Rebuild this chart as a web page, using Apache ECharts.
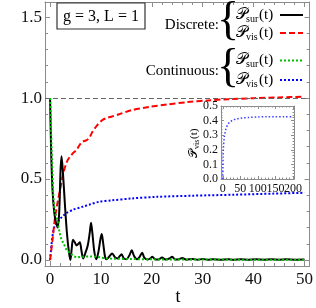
<!DOCTYPE html>
<html><head><meta charset="utf-8">
<script src="https://cdn.jsdelivr.net/npm/echarts@6/dist/echarts.min.js"></script>
<style>html,body{margin:0;padding:0;background:#fff}#c{width:316px;height:308px}</style>
</head><body><div id="c"></div>
<script>
// ---- data ----
const discSurT = [0,0.12,0.25,0.5,0.8,1.1,1.5,1.8,2.05,2.25,2.5,2.9,3.3,3.7,4.0,4.25,4.5,4.85,5.2,5.55,5.85,6.15,6.5,6.9,7.4,7.8,8.05,8.3,8.7,9.1,9.5,9.9,10.15,10.45,10.8,11.1,11.6,12.2,12.8,13.3,13.7,14.05,14.5,15.0,15.6,16.05,16.5,17.1,17.6,18.1,18.5,19.2,19.7,20.1,20.6,21.3,22,22.7,23.5,24,24.6,25.3,26,26.8,28,29,30,31,32,33.5,35,36,37.5,39,40.5,42,43.5,45,46.5,48,50];
const discSurV = [1.0,0.8,0.62,0.42,0.3,0.24,0.2,0.3,0.55,0.64,0.55,0.35,0.17,0.05,0.0,0.07,0.125,0.11,0.09,0.1,0.11,0.06,0.01,0.04,0.09,0.17,0.23,0.17,0.05,0.005,0.05,0.13,0.16,0.1,0.02,0.005,0.02,0.04,0.015,0.01,0.025,0.035,0.01,0.005,0.03,0.06,0.025,0.005,0.02,0.045,0.015,0.003,0.01,0.02,0.005,0.003,0.015,0.003,0.01,0.02,0.003,0.005,0.012,0.002,0.006,0.002,0.006,0.002,0.005,0.002,0.005,0.002,0.005,0.002,0.004,0.002,0.004,0.002,0.004,0.002,0.003];
const discVisT = [0,0.5,1,1.5,2,2.5,3,3.5,4,4.5,5.2,5.8,6.3,7.2,7.8,8.3,9.2,10.3,11,12,13.6,16,19.5,23,27,31,35,40,45,50];
const discVisV = [0,0.13,0.27,0.36,0.44,0.52,0.58,0.62,0.64,0.66,0.68,0.71,0.73,0.74,0.76,0.79,0.83,0.865,0.875,0.885,0.9,0.925,0.945,0.96,0.975,0.985,0.993,0.999,1.004,1.008];
const contSurT = [0,0.15,0.3,0.45,0.6,0.8,1.1,1.4,1.8,2.2,2.7,3.2,4,4.6,5.3,6.5,8,9.5,11,13,16,20,30,40,50];
const contSurV = [1,0.85,0.68,0.56,0.42,0.33,0.28,0.25,0.18,0.13,0.1,0.065,0.04,0.025,0.017,0.02,0.022,0.018,0.01,0.008,0.006,0.004,0.003,0.002,0.002];
const contVisT = [0,0.3,0.65,1,1.6,2.3,3.2,4.5,6.5,8,9.7,12,16,21,28,36,44,50];
const contVisV = [0,0.1,0.185,0.215,0.24,0.265,0.29,0.31,0.33,0.345,0.36,0.368,0.38,0.39,0.397,0.403,0.41,0.415];
const insetT = [0,1,2,4,6,10,15,20,30,40,55,75,100,125,150,175,200];
const insetV = [0,0.15,0.22,0.28,0.31,0.35,0.375,0.39,0.405,0.412,0.418,0.422,0.425,0.426,0.427,0.427,0.427];
const refLevel = [1];
// tick labels
const xMajor = [0,10,20,30,40,50];
const xMinor = [2,4,6,8,12,14,16,18,22,24,26,28,32,34,36,38,42,44,46,48];
const yMajor = [0,0.5,1,1.5];
const yMinor = [0.1,0.2,0.3,0.4,0.6,0.7,0.8,0.9,1.1,1.2,1.3,1.4];
const ixMajor = [0,50,100,150,200];
const ixMinor = [10,20,30,40,60,70,80,90,110,120,130,140,160,170,180,190];
const iyMajor = [0,0.1,0.2,0.3,0.4,0.5];
const iyMinor = [0.02,0.04,0.06,0.08,0.12,0.14,0.16,0.18,0.22,0.24,0.26,0.28,0.32,0.34,0.36,0.38,0.42,0.44,0.46,0.48];

const zip = (a,b)=>a.map((t,i)=>[t,b[i]]);
const SERIF = "'Liberation Serif','DejaVu Serif',serif";
const FRAME = '#8c8c8c';

function axis(grid, pos, min, max, ticks, len, line, labels, fmt, fs, margin){
  return {
    type:'value', gridIndex:grid, position:pos, min:min, max:max,
    axisLine:{show:line, onZero:false, lineStyle:{color:FRAME, width:1}},
    axisTick:{show:true, inside:true, length:len, customValues:ticks, lineStyle:{color:FRAME, width:1}},
    axisLabel:{show:!!labels, customValues:labels||undefined, formatter:fmt, color:'#111', fontFamily:SERIF, fontSize:fs, margin:margin,
      showMinLabel:true, showMaxLabel:true, hideOverlap:false},
    splitLine:{show:false}
  };
}
const f1 = v=>Number(v).toFixed(1);
const f0 = v=>String(Math.round(v));

const IXMIN = -5, IXMAX = 203;
const xAxes = [
  axis(0,'bottom',-1,51,xMajor,5,true,xMajor,f0,17,5),
  axis(0,'bottom',-1,51,xMinor,3,false),
  axis(0,'top',-1,51,xMajor,5,true),
  axis(0,'top',-1,51,xMinor,3,false),
  axis(1,'bottom',IXMIN,IXMAX,ixMajor,3,true),
  axis(1,'bottom',IXMIN,IXMAX,ixMinor,1.5,false),
  axis(1,'top',IXMIN,IXMAX,ixMajor,3,true),
  axis(1,'top',IXMIN,IXMAX,ixMinor,1.5,false)
];
const yAxes = [
  axis(0,'left',-0.037,1.593,yMajor,5,true,yMajor,f1,17,3),
  axis(0,'left',-0.037,1.593,yMinor,3,false),
  axis(0,'right',-0.037,1.593,yMajor,5,true),
  axis(0,'right',-0.037,1.593,yMinor,3,false),
  axis(1,'left',0,0.5,iyMajor,3,true),
  axis(1,'left',0,0.5,iyMinor,1.5,false),
  axis(1,'right',0,0.5,iyMajor,3,true),
  axis(1,'right',0,0.5,iyMinor,1.5,false)
];

function txt(t,x,y,fs,align,extra,weight){
  return Object.assign({type:'text', z:10, style:{text:t, x:x, y:y, font:(weight?weight+' ':'')+fs+'px '+SERIF, fill:'#000', align:align||'left', verticalAlign:'middle'}}, extra||{});
}
function pLabel(sub,x,y){
  return [
    {type:'text', z:10, style:{text:'𝒫', x:x, y:y, font:'16px '+SERIF, fill:'#000', align:'left', verticalAlign:'middle'}},
    {type:'text', z:10, style:{text:sub, x:x+10, y:y+4, font:'10px '+SERIF, fill:'#000', align:'left', verticalAlign:'middle'}},
    {type:'text', z:10, style:{text:'(t)', x:x+23, y:y, font:'15px '+SERIF, fill:'#000', align:'left', verticalAlign:'middle'}}
  ];
}
function sample(y,color,dash){
  return {type:'line', z:10, shape:{x1:280,y1:y,x2:303,y2:y}, style:{stroke:color, lineWidth:2, lineDash:dash||null}};
}

const graphic = [
  {type:'rect', z:10, shape:{x:57,y:3,width:88,height:26}, style:{fill:'#fff', stroke:'#333', lineWidth:1.2}},
  txt('g = 3, L = 1',101,16.5,16,'center'),
  txt('Discrete:',219,25,15,'right'),
  txt('{',228,22,46,'center'),
  txt('Continuous:',219,71,15,'right'),
  txt('{',228,69,46,'center'),
  ...pLabel('sur',236,15),
  ...pLabel('vis',236,33),
  ...pLabel('sur',236,60),
  ...pLabel('vis',236,80),
  sample(15,'#000'),
  sample(33,'#ff0000',[6,3]),
  sample(60.5,'#00c000',[2,2]),
  sample(80,'#0000ff',[2,2]),
  txt('t',178,297,18,'center')
];

const chart = echarts.init(document.getElementById('c'), null, {renderer:'canvas'});
const option = {
  animation:false,
  backgroundColor:'#fff',
  grid:[
    {left:45, top:2, right:4, bottom:42, show:false},
    {left:221, top:106, width:73, height:73, show:false}
  ],
  xAxis:xAxes, yAxis:yAxes,
  series:[
    {type:'line', xAxisIndex:0, yAxisIndex:0, data:zip(contVisT,contVisV), showSymbol:false, smooth:0.3,
     lineStyle:{color:'#0000ff', width:2, type:[2,2]}},
    {type:'line', xAxisIndex:0, yAxisIndex:0, data:zip(discVisT,discVisV), showSymbol:false, smooth:0.3,
     lineStyle:{color:'#ff0000', width:2, type:[6,3]},
     markLine:{silent:true, symbol:'none', label:{show:false}, data:refLevel.map(v=>({yAxis:v})),
       lineStyle:{color:'#666', width:1, type:[5,3]}}},
    {type:'line', xAxisIndex:0, yAxisIndex:0, data:zip(discSurT,discSurV), showSymbol:false, smooth:0.3,
     lineStyle:{color:'#000', width:2}},
    {type:'line', xAxisIndex:0, yAxisIndex:0, data:zip(contSurT,contSurV), showSymbol:false, smooth:0.3,
     lineStyle:{color:'#00c000', width:2, type:[2,2]}},
    {type:'line', xAxisIndex:4, yAxisIndex:4, data:zip(insetT,insetV), showSymbol:false, smooth:0.3, z:6,
     lineStyle:{color:'#4040ff', width:1.5, type:[1.5,2]}}
  ]
};
chart.setOption(option);
// inset tick labels placed through the inset axes' own scales
const insetLabels = [];
ixMajor.forEach(v=>{
  const p = chart.convertToPixel({xAxisIndex:4, yAxisIndex:4}, [v,0]);
  insetLabels.push({type:'text', zlevel:1, z:100, style:{text:f0(v), x:p[0], y:p[1]+4, font:'12px '+SERIF, fill:'#111', align:'center', verticalAlign:'top'}});
});
iyMajor.forEach(v=>{
  const p = chart.convertToPixel({xAxisIndex:4, yAxisIndex:4}, [IXMIN,v]);
  insetLabels.push({type:'text', zlevel:1, z:100, style:{text:f1(v), x:p[0]-3, y:p[1], font:'12px '+SERIF, fill:'#111', align:'right', verticalAlign:'middle'}});
});
const insetName = [
  {type:'text', zlevel:1, z:100, x:194, y:158, rotation:Math.PI/2, style:{text:'𝒫', x:0, y:0, font:'12px '+SERIF, fill:'#000', align:'left', verticalAlign:'middle'}},
  {type:'text', zlevel:1, z:100, x:197, y:149, rotation:Math.PI/2, style:{text:'vis', x:0, y:0, font:'8px '+SERIF, fill:'#000', align:'left', verticalAlign:'middle'}},
  {type:'text', zlevel:1, z:100, x:194, y:139, rotation:Math.PI/2, style:{text:'(t)', x:0, y:0, font:'11px '+SERIF, fill:'#000', align:'left', verticalAlign:'middle'}}
];
chart.setOption({graphic: graphic.concat(insetLabels, insetName)});
</script></body></html>
